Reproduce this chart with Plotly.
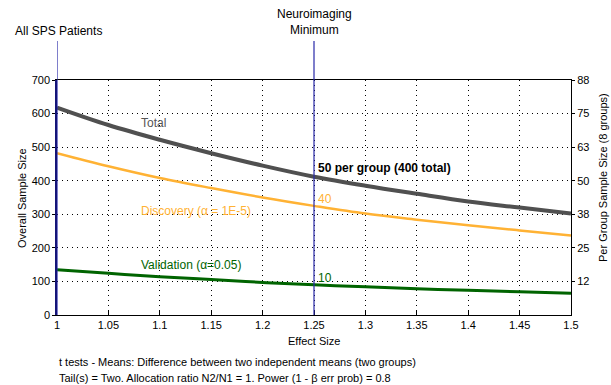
import plotly.graph_objects as go

# Effect sizes on the horizontal axis
effect_size = [1.0, 1.05, 1.1, 1.15, 1.2, 1.25, 1.3, 1.35, 1.4, 1.45, 1.5]

# Overall sample size (8 groups combined)
total_n = [618, 566, 522, 482, 445, 412, 385, 361, 338, 320, 302]
discovery_n = [482, 443, 408, 378, 350, 325, 302, 284, 267, 252, 237]
validation_n = [135, 124, 114, 106, 97, 90, 84, 78, 74, 69, 65]

# Left axis ticks and the matching per-group ticks on the right axis
left_ticks = [0, 100, 200, 300, 400, 500, 600, 700]
right_ticks = [100, 200, 300, 400, 500, 600, 700]
right_tick_text = ["12", "25", "38", "50", "63", "75", "88"]
x_ticks = [1, 1.05, 1.1, 1.15, 1.2, 1.25, 1.3, 1.35, 1.4, 1.45, 1.5]
x_tick_text = ["1", "1.05", "1.1", "1.15", "1.2", "1.25", "1.3", "1.35", "1.4", "1.45", "1.5"]

# Reference effect sizes marked with vertical lines
marker_x = [1.0, 1.25]

FONT = "Liberation Sans, Arial, sans-serif"
GRAY = "#555555"
ORANGE = "#FFB234"
GREEN = "#006400"
BLUE = "#2828a8"
NAVY = "#141478"

# Plot-area geometry in pixels (used to place free text)
W, H = 611, 385
L, R, T, B = 57, 571, 80, 315


def px(x):
    return (x - L) / (R - L)


def py(y):
    return (B - y) / (B - T)


fig = go.Figure()

fig.add_trace(go.Scatter(x=effect_size, y=validation_n, mode="lines",
                         line=dict(color=GREEN, width=3, shape="spline"),
                         showlegend=False, hoverinfo="skip"))
fig.add_trace(go.Scatter(x=effect_size, y=discovery_n, mode="lines",
                         line=dict(color=ORANGE, width=2.5, shape="spline"),
                         showlegend=False, hoverinfo="skip"))
fig.add_trace(go.Scatter(x=effect_size, y=total_n, mode="lines",
                         line=dict(color="#505050", width=4, shape="spline"),
                         showlegend=False, hoverinfo="skip"))
# invisible trace to carry the right-hand axis
fig.add_trace(go.Scatter(x=[1, 1.5], y=[0, 700], yaxis="y2", mode="markers",
                         marker=dict(opacity=0), showlegend=False, hoverinfo="skip"))

for xv in marker_x:
    fig.add_shape(type="line", xref="x", yref="paper", x0=xv, x1=xv,
                  y0=0, y1=py(41), line=dict(color=BLUE, width=1.2), layer="above")

annotations = [
    dict(x=1.08, y=572, xref="x", yref="y", text="Total", xanchor="left",
         font=dict(color=GRAY, size=12)),
    dict(x=1.08, y=309, xref="x", yref="y", text="Discovery (α = 1E-5)", xanchor="left",
         font=dict(color=ORANGE, size=12)),
    dict(x=1.08, y=150, xref="x", yref="y", text="Validation (α=0.05)", xanchor="left",
         font=dict(color=GREEN, size=12)),
    dict(x=1.2515, y=438, xref="x", yref="y", text="<b>50 per group (400 total)</b>",
         xanchor="left", font=dict(color="black", size=12)),
    dict(x=1.2515, y=347, xref="x", yref="y", text="40", xanchor="left",
         font=dict(color=ORANGE, size=12)),
    dict(x=1.2515, y=111, xref="x", yref="y", text="10", xanchor="left",
         font=dict(color=GREEN, size=12)),
    dict(x=px(58), y=py(31), xref="paper", yref="paper", text="All SPS Patients",
         font=dict(size=12)),
    dict(x=px(314), y=py(22), xref="paper", yref="paper", text="Neuroimaging<br>Minimum",
         font=dict(size=12)),
    dict(x=px(57), y=py(362), xref="paper", yref="paper", xanchor="left",
         text="t tests - Means: Difference between two independent means (two groups)",
         font=dict(size=11)),
    dict(x=px(57), y=py(378), xref="paper", yref="paper", xanchor="left",
         text="Tail(s) = Two. Allocation ratio N2/N1 = 1. Power (1 - β err prob) = 0.8",
         font=dict(size=11)),
    dict(x=px(314), y=py(341), xref="paper", yref="paper", text="Effect Size",
         font=dict(size=11)),
    dict(x=px(22), y=py(198), xref="paper", yref="paper", text="Overall Sample Size",
         textangle=-90, font=dict(size=11)),
    dict(x=px(603), y=py(178), xref="paper", yref="paper",
         text="Per Group Sample Size (8 groups)", textangle=-90, font=dict(size=11)),
]
for a in annotations:
    a.setdefault("showarrow", False)
    a.setdefault("xanchor", "center")
    a.setdefault("yanchor", "middle")
    a["font"].setdefault("family", FONT)
    a["font"].setdefault("color", "black")

grid = dict(showgrid=True, gridcolor="black", griddash="1px,4px", gridwidth=1)

fig.update_layout(
    width=W, height=H,
    margin=dict(l=L, r=W - R, t=T, b=H - B, pad=0),
    paper_bgcolor="white", plot_bgcolor="white",
    font=dict(family=FONT, size=11, color="black"),
    annotations=annotations,
    xaxis=dict(range=[1, 1.5], tickvals=x_ticks, ticktext=x_tick_text, **grid,
               ticks="inside", ticklen=4, tickcolor="black",
               showline=True, linecolor="black", linewidth=1, mirror=True,
               zeroline=False, tickfont=dict(size=11)),
    yaxis=dict(range=[0, 700], tickvals=left_ticks, **grid,
               ticks="outside", ticklen=3, tickcolor="black",
               showline=True, linecolor=NAVY, linewidth=1.5, mirror=False,
               zeroline=False, tickfont=dict(size=11)),
    yaxis2=dict(range=[0, 700], overlaying="y", side="right",
                tickvals=right_ticks, ticktext=right_tick_text,
                showgrid=False, ticks="outside", ticklen=3, tickcolor="black",
                showline=True, linecolor="black", linewidth=1,
                zeroline=False, tickfont=dict(size=11)),
)

fig.write_html("out.html")
